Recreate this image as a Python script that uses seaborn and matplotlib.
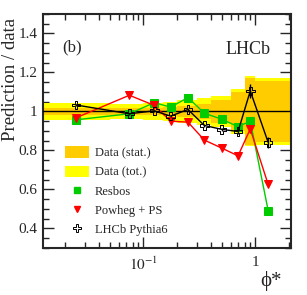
import numpy as np
import pandas as pd
import matplotlib
matplotlib.use("Agg")
import matplotlib.pyplot as plt
import seaborn as sns
from matplotlib.patches import Patch
from matplotlib.lines import Line2D
from matplotlib.ticker import FixedLocator, MultipleLocator, FuncFormatter, LogLocator, NullFormatter

# ---- data ----
bin_edges = [0.0127, 0.05, 0.1, 0.15, 0.2, 0.3, 0.4, 0.6, 0.8, 1.0, 2.08]
stat_err = [0.018, 0.018, 0.02, 0.022, 0.03, 0.04, 0.06, 0.10, 0.17, 0.155]
tot_err = [0.043, 0.040, 0.045, 0.05, 0.057, 0.07, 0.08, 0.115, 0.18, 0.17]
phi_star = [0.025, 0.075, 0.125, 0.175, 0.25, 0.35, 0.5, 0.7, 0.9, 1.3]
resbos = [0.957, 0.988, 1.045, 1.022, 1.071, 0.991, 0.960, 0.922, 0.950, 0.491]
powheg = [0.967, 1.083, 1.031, 0.950, 0.945, 0.853, 0.812, 0.772, 0.910, 0.625]
pythia = [1.033, 0.988, 1.003, 0.976, 1.010, 0.928, 0.908, 0.897, 1.105, 0.841]
pythia_err = [0.005, 0.005, 0.005, 0.006, 0.006, 0.007, 0.008, 0.012, 0.035, 0.03]
y_ticks = [0.4, 0.6, 0.8, 1.0, 1.2, 1.4]

sns.set_style("ticks")
plt.rcParams['font.family'] = ['Liberation Serif', 'DejaVu Serif']
plt.rcParams['mathtext.fontset'] = 'stix'

fig = plt.figure(figsize=(3.07, 2.95), dpi=100)
ax = fig.add_axes([0.140, 0.160, 0.808, 0.7925])

edges = np.array(bin_edges)
st = np.array(stat_err + [stat_err[-1]])
tt = np.array(tot_err + [tot_err[-1]])
ax.fill_between(edges, 1 - tt, 1 + tt, step='post', color='#FFFF00', lw=0, zorder=1)
ax.fill_between(edges, 1 - st, 1 + st, step='post', color='#FFCC00', lw=0, zorder=2)
ax.axhline(1.0, color='black', lw=1.0, zorder=3)

df = pd.DataFrame({'phi': phi_star, 'Resbos': resbos, 'Powheg': powheg, 'Pythia': pythia})

sns.lineplot(data=df, x='phi', y='Resbos', ax=ax, color='#00CC00', lw=1.0,
             marker='s', markersize=6, markeredgecolor='#00CC00', zorder=5)
sns.lineplot(data=df, x='phi', y='Powheg', ax=ax, color='#FF0000', lw=1.0,
             marker='v', markersize=6, markeredgecolor='#FF0000', zorder=5)
sns.lineplot(data=df, x='phi', y='Pythia', ax=ax, color='black', lw=1.0, zorder=6)
ax.errorbar(phi_star, pythia, yerr=pythia_err, fmt='none', ecolor='black', elinewidth=1.0, zorder=6)
sns.scatterplot(data=df, x='phi', y='Pythia', ax=ax, marker='P', s=38,
                facecolor='none', edgecolor='black', linewidth=0.7, zorder=7)

ax.set_xscale('log')
ax.set_xlim(bin_edges[0], bin_edges[-1])
ax.set_ylim(0.3, 1.5)

ax.yaxis.set_major_locator(FixedLocator(y_ticks))
ax.yaxis.set_minor_locator(MultipleLocator(0.05))
ax.yaxis.set_major_formatter(FuncFormatter(lambda v, p: '1' if abs(v - 1) < 1e-9 else f'{v:.1f}'))
ax.xaxis.set_major_locator(FixedLocator([0.1, 1.0]))
ax.xaxis.set_major_formatter(FuncFormatter(lambda v, p: r'$10^{-1}$' if v < 0.5 else '1'))
ax.xaxis.set_minor_locator(LogLocator(base=10, subs=np.arange(2, 10), numticks=20))
ax.xaxis.set_minor_formatter(NullFormatter())

ax.tick_params(which='both', direction='in', top=True, right=True, labelsize=11, width=1.0)
ax.tick_params(which='major', length=8)
ax.tick_params(which='minor', length=4)
ax.tick_params(axis='x', pad=6)
ax.tick_params(axis='y', pad=4)
for s in ax.spines.values():
    s.set_linewidth(1.5)

ax.set_xlabel('\u03d5*', fontsize=15)
ax.xaxis.set_label_coords(0.92, -0.1)
ax.set_ylabel('Prediction / data', fontsize=13.5)
ax.yaxis.set_label_coords(-0.095, 0.72)

ax.text(0.078, 0.857, '(b)', transform=ax.transAxes, fontsize=12, va='center', ha='left')
ax.text(0.735, 0.85, 'LHCb', transform=ax.transAxes, fontsize=13, va='center', ha='left')

handles = [
    Patch(facecolor='#FFCC00', edgecolor='none'),
    Patch(facecolor='#FFFF00', edgecolor='none'),
    Line2D([], [], ls='none', marker='s', color='#00CC00', markersize=5),
    Line2D([], [], ls='none', marker='v', color='#FF0000', markersize=5),
    Line2D([], [], ls='none', marker='P', markerfacecolor='none', markeredgecolor='black', markersize=5.5, markeredgewidth=0.7),
]
labels = ['Data (stat.)', 'Data (tot.)', 'Resbos', 'Powheg + PS', 'LHCb Pythia6']
ax.legend(handles, labels, loc='upper left', bbox_to_anchor=(0.07, 0.455), frameon=False,
          fontsize=9, handlelength=1.9, handleheight=1.0, labelspacing=0.5, handletextpad=0.45,
          borderaxespad=0)

fig.savefig('out.png', dpi=100)
